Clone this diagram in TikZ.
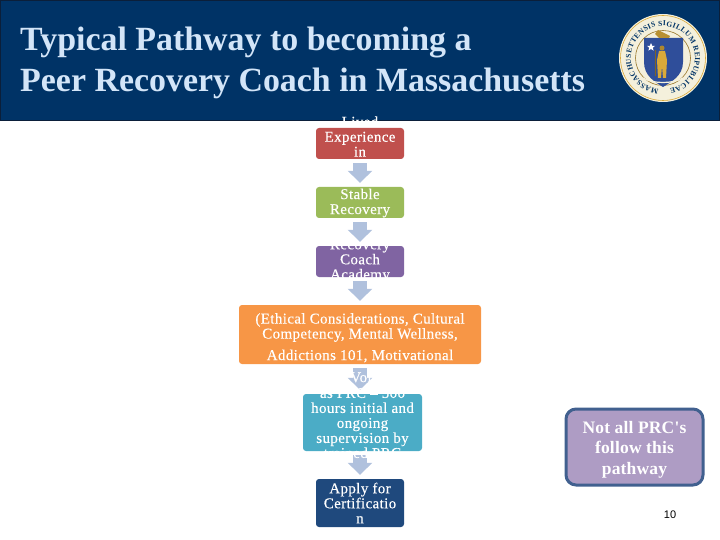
\documentclass[tikz,border=0pt]{standalone}
\usepackage{fontspec}
\setmainfont{Liberation Serif}
\newfontfamily\boxfont[LetterSpace=2.5,FakeBold=0.25]{Liberation Serif}
\newfontfamily\notefont[LetterSpace=1]{Liberation Serif}
\newfontfamily\numfont{Liberation Sans}
\usetikzlibrary{arrows.meta,decorations.text}
\definecolor{headblue}{HTML}{003366}
\definecolor{headedge}{HTML}{0B1F3A}
\definecolor{titleblue}{HTML}{D3E5F8}
\definecolor{arrowblue}{HTML}{B0C1DD}
\definecolor{cred}{HTML}{C0504D}
\definecolor{cgreen}{HTML}{9BBB59}
\definecolor{cpurple}{HTML}{8064A2}
\definecolor{corange}{HTML}{F79646}
\definecolor{cteal}{HTML}{4BACC6}
\definecolor{cnavy}{HTML}{1F497D}
\definecolor{clilac}{HTML}{AE9CC4}
\definecolor{cedge}{HTML}{41608F}
\definecolor{sealcream}{HTML}{F4F0DC}
\definecolor{sealgold}{HTML}{D9A93A}
\definecolor{sealshield}{HTML}{2F4E9A}
\tikzset{
  stepbox/.style={rounded corners=3pt,inner sep=0pt,minimum width=#1},
  boxtext/.style={text=white,align=center,inner sep=0pt,
    font=\boxfont\fontsize{15}{15}\selectfont},
  flow/.style={draw=arrowblue,line width=14pt,
    -{Triangle[length=12pt,width=24pt]},shorten >=4pt,shorten <=4pt},
  titletext/.style={text=titleblue,anchor=base west,inner sep=0pt,
    font=\bfseries\fontsize{33.9}{36}\selectfont}
}
\begin{document}
\begin{tikzpicture}[x=1pt,y=-1pt]
\useasboundingbox (0,0) rectangle (720,540);
% header
\node[fill=headblue,draw=headedge,line width=1pt,minimum width=719pt,minimum height=120pt,inner sep=0pt] (header) at (360,60.5) {};
\node[titletext] (title1) at (20,51) {Typical Pathway to becoming a};
\node[titletext] (title2) at (20,92) {Peer Recovery Coach in Massachusetts};
% boxes
\node[stepbox=88pt,fill=cred,minimum height=31pt] (b1) at (360,143.5) {};
\node[stepbox=88pt,fill=cgreen,minimum height=31pt] (b2) at (360,202.5) {};
\node[stepbox=88pt,fill=cpurple,minimum height=31pt] (b3) at (360,261.5) {};
\node[stepbox=242pt,fill=corange,minimum height=59pt] (b4) at (360,334.5) {};
\node[stepbox=119pt,fill=cteal,minimum height=57pt] (b5) at (362.5,422.5) {};
\node[stepbox=88pt,fill=cnavy,minimum height=48pt] (b6) at (360,503) {};
% arrows
\draw[flow] (b1) -- (b2);
\draw[flow] (b2) -- (b3);
\draw[flow] (b3) -- (b4);
\draw[flow] (b4) -- (b5.north -| b4);
\draw[flow] (b5.south -| b6) -- (b6);
% box texts (white text runs off the boxes and is lost on the white page)
\node[boxtext] (t1) at (360,136.5) {Lived\\Experience\\in};
\node[boxtext] (t2) at (360,203) {Stable\\Recovery};
\node[boxtext] (t3) at (360,261) {Recovery\\Coach\\Academy};
\node[boxtext] (t4a) at (360,327.5) {(Ethical Considerations, Cultural\\Competency, Mental Wellness,};
\node[boxtext] (t4b) at (360,356) {Addictions 101, Motivational};
\node[boxtext] (t4c) at (361,377) {Vol};
\node[boxtext] (t5) at (362.5,423) {as PRC – 500\\hours initial and\\ongoing\\supervision by\\trained PRC};
\node[boxtext] (t6) at (360,503) {Apply for\\Certificatio\\n};
% callout
\node[rounded corners=10pt,fill=clilac,draw=cedge,line width=3pt,minimum width=137pt,minimum height=76pt,inner sep=0pt,
  text=white,align=center,font=\notefont\bfseries\fontsize{17.5}{20.5}\selectfont] (note) at (634.5,447) {\rule{0pt}{17pt}Not all PRC's\\follow this\\pathway};
\node[font=\numfont\fontsize{11}{13}\selectfont,inner sep=0pt] (page) at (670,514.5) {10};
% seal
\begin{scope}[shift={(663,58)},y=1pt]
  \fill[sealcream] (0,0) circle (44);
  \draw[sealgold,line width=.6pt] (0,0) circle (42.5);
  \draw[sealgold!70!black,line width=.6pt] (0,0) circle (27.5);
  \path[decorate,decoration={text along path,text align={fit to path},
     text={|\bfseries\fontsize{7.5}{8}\selectfont\color{headblue}|MASSACHUSETTENSIS SIGILLUM REIPUBLICAE}}]
     (262:32) arc (262:-78:32);
  \fill[sealshield] (-19,20) -- (20,20) -- (20,-4) .. controls (20,-18) and (8,-24) .. (0,-29) .. controls (-8,-24) and (-19,-18) .. (-19,-4) -- cycle;
  \fill[white] (-12,15) -- (-10.8,12.2) -- (-8,12.2) -- (-10.2,10.2) -- (-9.4,7.4) -- (-12,9) -- (-14.6,7.4) -- (-13.8,10.2) -- (-16,12.2) -- (-13.2,12.2) -- cycle;
  \fill[sealgold] (-4,7) -- (2,7) -- (4,-2) -- (3,-20) -- (0,-20) -- (-1,-8) -- (-2,-20) -- (-5,-20) -- (-6,-2) -- cycle;
  \fill[sealgold!80!black] (-1,10) circle (2.5);
  \fill[sealgold!85!black] (-8,24) -- (-5,28) -- (7,22) -- (6,20) -- (-4,20) -- cycle;
  \draw[sealgold!60!black,line width=.8pt] (-8,8) -- (-8,-18);
  \draw[sealcream,line width=1.2pt] (-20,-20) .. controls (-10,-26) and (10,-26) .. (20,-20);
\end{scope}
\end{tikzpicture}
\end{document}
